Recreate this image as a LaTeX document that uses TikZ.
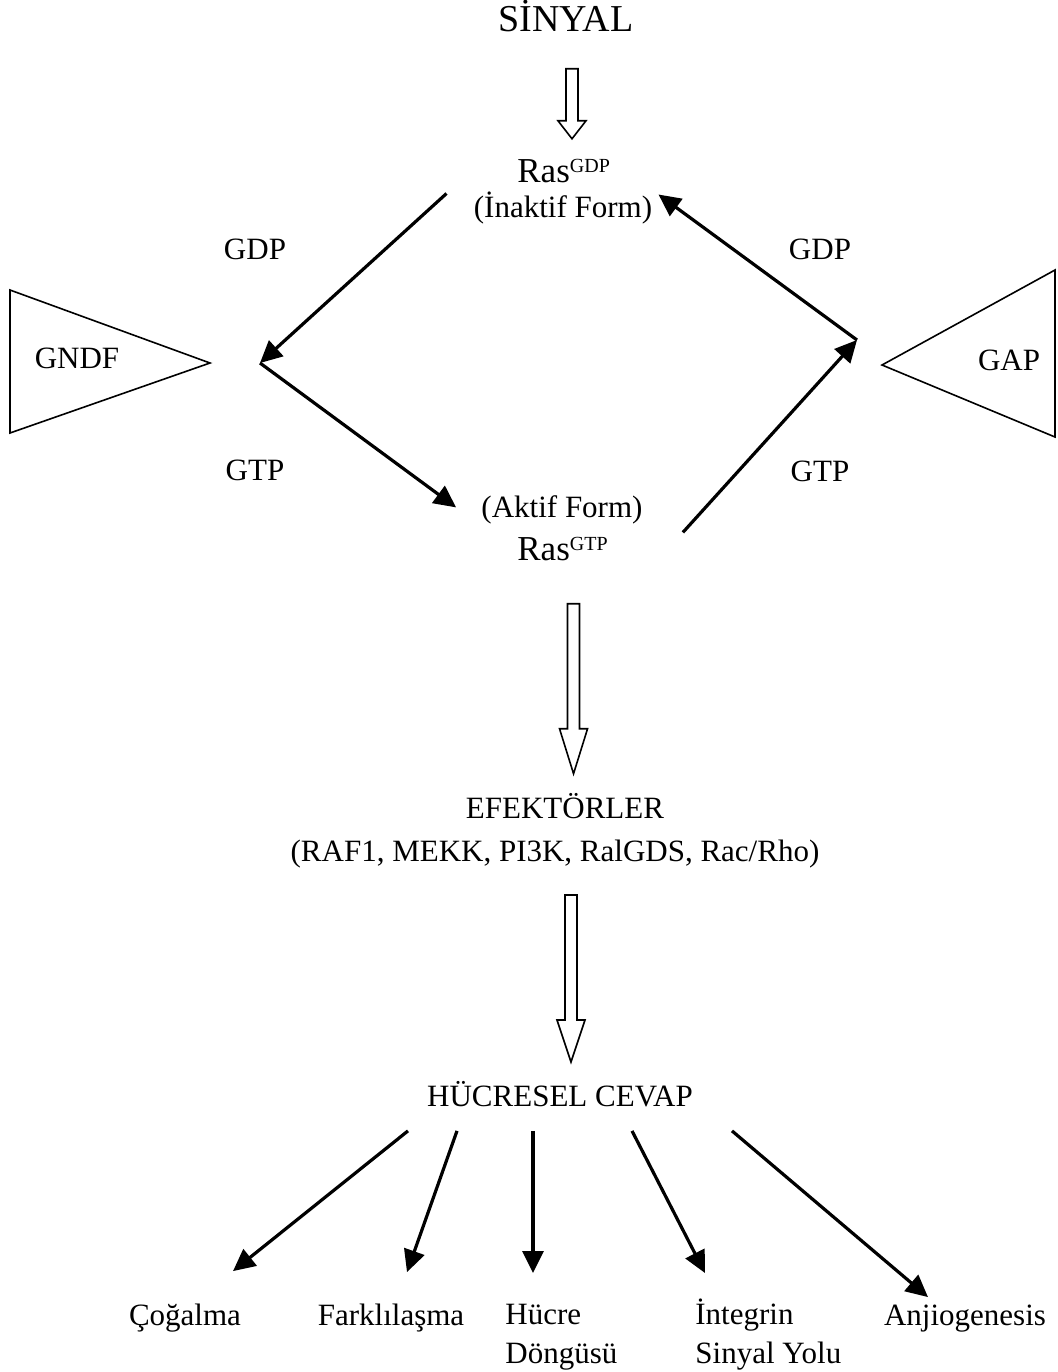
\documentclass[tikz,border=0pt]{standalone}
\usepackage{fontspec}
\setmainfont{Liberation Serif}
\usetikzlibrary{arrows.meta,calc}

\newcommand{\hoch}[1]{\raisebox{5pt}{\fontsize{10}{11}\selectfont #1}}
%Hohlpfeil: oberes Ende, Spitze, Kopflaenge
\newcommand{\hohlpfeil}[3]{%
	\draw[hohl] ([xshift=-3pt]#1) -- ([xshift=-3pt,yshift=#3]#2) -- ([xshift=-7pt,yshift=#3]#2)
		-- (#2) -- ([xshift=7pt,yshift=#3]#2) -- ([xshift=3pt,yshift=#3]#2) -- ([xshift=3pt]#1) -- cycle;}

\tikzset{
	txt/.style={font=\fontsize{15.5}{19.5}\selectfont, inner sep=0pt},
	gross/.style={font=\fontsize{17.5}{21}\selectfont, inner sep=0pt},
	titel/.style={font=\fontsize{19}{22}\selectfont, inner sep=0pt},
	pfeil/.style={-{Triangle[length=11pt,width=10.5pt]}, line width=1.6pt},
	hohl/.style={thick, line join=miter},
	dreieck/.style={thick, line join=miter}
}

\begin{document}
\begin{tikzpicture}[x=0.5pt, y=-0.5pt]
		\useasboundingbox (0,0) rectangle (1057,1372);

		%Signal und Ras
		\node[titel, anchor=base] (sinyal) at (566,31) {SİNYAL};
		\node[gross, anchor=base west] (rasgdp) at (517,182) {Ras\hoch{GDP}};
		\node[txt, anchor=base] (inaktif) at (563,217) {(İnaktif Form)};
		\node[txt, anchor=base] (aktif) at (562,517) {(Aktif Form)};
		\node[gross, anchor=base west] (rasgtp) at (517,560) {Ras\hoch{GTP}};

		%GDP / GTP
		\node[txt, anchor=base] (gdpl) at (255,259) {GDP};
		\node[txt, anchor=base] (gdpr) at (820,259) {GDP};
		\node[txt, anchor=base] (gtpl) at (255,480) {GTP};
		\node[txt, anchor=base] (gtpr) at (820,481) {GTP};

		%Dreiecke
		\draw[dreieck] (10,290) -- (210,363) -- (10,433) -- cycle;
		\node[txt, anchor=base] (gndf) at (77,368) {GNDF};
		\draw[dreieck] (1055,270) -- (882,365) -- (1055,437) -- cycle;
		\node[txt, anchor=base] (gap) at (1009,370) {GAP};

		%Zyklus
		\coordinate (links) at (260,363);
		\coordinate (rechts) at (857,340);
		\draw[pfeil] ($(inaktif.west)+(-27,-14)$) -- (links);
		\draw[pfeil] (links) -- ($(aktif.west)+(-25,-2)$);
		\draw[pfeil] ($(aktif.east)+(40,23)$) -- (rechts);
		\draw[pfeil] (rechts) -- ($(inaktif.east)+(6,-13)$);

		%Effektoren
		\node[txt, anchor=base] (efektor) at (565,818) {EFEKTÖRLER};
		\node[txt, anchor=base] (liste) at (555,861) {(RAF1, MEKK, PI3K, RalGDS, Rac/Rho)};
		\node[txt, anchor=base] (cevap) at (560,1106) {HÜCRESEL CEVAP};

		%Hohlpfeile
		\coordinate (p1o) at ($(sinyal.south)+(6,37)$);
		\coordinate (p1u) at ($(p1o)+(0,70)$);
		\coordinate (p2o) at ($(rasgtp.south)+(11,43)$);
		\coordinate (p2u) at ($(p2o)+(0,170)$);
		\coordinate (p3o) at ($(liste.south)+(16,27)$);
		\coordinate (p3u) at ($(p3o)+(0,167)$);
		\hohlpfeil{p1o}{p1u}{9pt}
		\hohlpfeil{p2o}{p2u}{22.5pt}
		\hohlpfeil{p3o}{p3u}{21pt}

		%Zellantworten
		\node[txt, anchor=base] (cogalma) at (185,1325) {Çoğalma};
		\node[txt, anchor=base] (farkli) at (391,1325) {Farklılaşma};
		\node[txt, anchor=north west, align=left] (dongu) at (505,1304) {Hücre\\Döngüsü};
		\node[txt, anchor=north west, align=left] (integrin) at (695,1299) {İntegrin\\Sinyal Yolu};
		\node[txt, anchor=base] (anjio) at (965,1325) {Anjiogenesis};

		\draw[pfeil] ($(cevap.south)+(-152,24)$) -- ($(cogalma.north)+(48,-32)$);
		\draw[pfeil] ($(cevap.south)+(-103,24)$) -- ($(farkli.north)+(16,-31)$);
		\draw[pfeil] ($(cevap.south)+(-27,24)$) -- ($(dongu.north west)+(28,-31)$);
		\draw[pfeil] ($(cevap.south)+(72,24)$) -- ($(integrin.north west)+(10,-26)$);
		\draw[pfeil] ($(cevap.south)+(172,24)$) -- ($(anjio.north)+(-37,-7)$);

\end{tikzpicture}
\end{document}
